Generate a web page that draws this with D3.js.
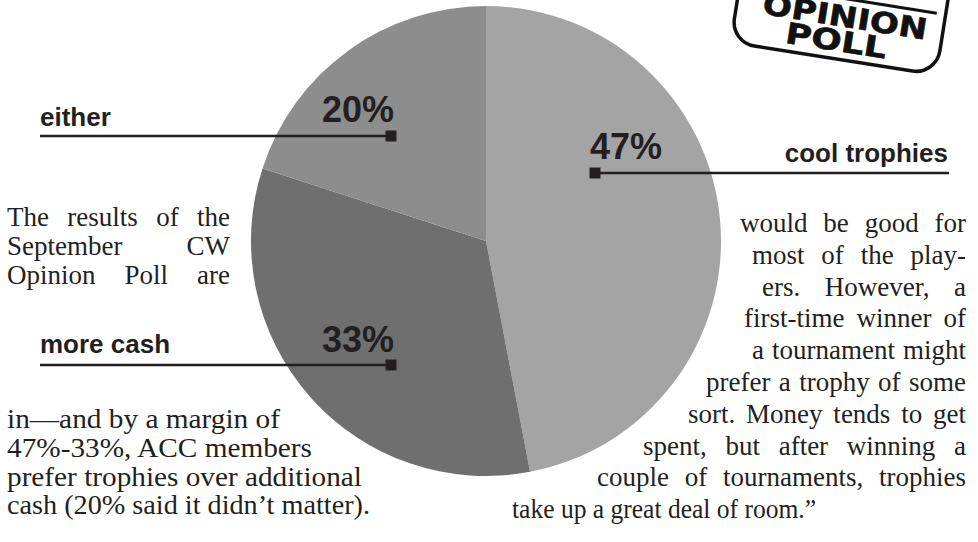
<!DOCTYPE html>
<html>
<head>
<meta charset="utf-8">
<script src="https://cdn.jsdelivr.net/npm/d3@7"></script>
<style>
  html, body { margin: 0; padding: 0; background: #ffffff; }
  svg { display: block; }
</style>
</head>
<body>
<svg id="chart" width="978" height="542"></svg>
<script>
// ---------- DATA ----------
const categories = ["cool trophies", "more cash", "either"];
const values = [47, 33, 20];
const valueLabels = ["47%", "33%", "20%"];

const leftTopLines = ["The results of the", "September CW", "Opinion Poll are"];
const leftBottomLines = [
  "in\u2014and by a margin of",
  "47%-33%, ACC members",
  "prefer trophies over additional",
  "cash (20% said it didn\u2019t matter)."
];
const rightLines = [
  "would be good for",
  "most of the play-",
  "ers. However, a",
  "first-time winner of",
  "a tournament might",
  "prefer a trophy of some",
  "sort. Money tends to get",
  "spent, but after winning a",
  "couple of tournaments, trophies",
  "take up a great deal of room.\u201D"
];
const logoWords = ["OPINION", "POLL"];

// ---------- LAYOUT / STYLE ----------
const W = 978, H = 542;
const ink = "#231f20";
const sliceColors = ["#a4a4a4", "#6f6f6f", "#8d8d8d"];
const pieCenter = [486, 241], pieR = 235;

const labelLayout = [
  { name: [948, 162], nameAnchor: "end", pct: [590, 159], pctAnchor: "start", lineX: [595, 949], lineY: 173, dot: 595 },
  { name: [40, 353], nameAnchor: "start", pct: [394, 352], pctAnchor: "end", lineX: [40, 391], lineY: 365, dot: 391 },
  { name: [40, 126], nameAnchor: "start", pct: [394, 122], pctAnchor: "end", lineX: [40, 391], lineY: 136, dot: 391 }
];

const bodyFont = "'Liberation Serif', 'Times New Roman', serif";
const bodySize = 27;
const leftX0 = 7, leftX1 = 230;
const leftTopBase = 226, leftBottomBase = 428, leftLead = 28.8;
const leftBottomEnds = [280, 312, 362, 370];
const rightX1 = 966;
const rightIndents = [740, 752, 762, 744, 752, 706, 688, 643, 597, 512];
const lastLineEnd = 816;
const rightBase = 232, rightLead = 31.8;

// ---------- DRAW ----------
const svg = d3.select("#chart");
svg.append("rect").attr("width", W).attr("height", H).attr("fill", "#fff");

const pie = d3.pie().sort(null).value(d => d)(values);
const arc = d3.arc().innerRadius(0).outerRadius(pieR);
const color = d3.scaleOrdinal().domain(categories).range(sliceColors);
const gPie = svg.append("g").attr("transform", `translate(${pieCenter[0]},${pieCenter[1]})`);
gPie.selectAll("path").data(pie).join("path")
  .attr("d", arc)
  .attr("fill", (d, i) => color(categories[i]));

const gLab = svg.append("g");
categories.forEach((c, i) => {
  const L = labelLayout[i];
  gLab.append("line")
    .attr("x1", L.lineX[0]).attr("x2", L.lineX[1])
    .attr("y1", L.lineY).attr("y2", L.lineY)
    .attr("stroke", ink).attr("stroke-width", 2.6);
  gLab.append("rect")
    .attr("x", L.dot - 5.5).attr("y", L.lineY - 5.5)
    .attr("width", 11).attr("height", 11).attr("fill", ink);
  gLab.append("text")
    .attr("x", L.name[0]).attr("y", L.name[1])
    .attr("text-anchor", L.nameAnchor)
    .attr("font-family", "'Liberation Sans', Arial, sans-serif")
    .attr("font-weight", "bold").attr("font-size", 26)
    .attr("fill", ink).text(c);
  gLab.append("text")
    .attr("x", L.pct[0]).attr("y", L.pct[1])
    .attr("text-anchor", L.pctAnchor)
    .attr("font-family", "'Liberation Sans', Arial, sans-serif")
    .attr("font-weight", "bold").attr("font-size", 36)
    .attr("fill", ink).text(valueLabels[i]);
});

const gText = svg.append("g")
  .attr("font-family", bodyFont).attr("font-size", bodySize).attr("fill", ink);

function justified(str, x0, x1, y) {
  const t = gText.append("text").attr("x", x0).attr("y", y).text(str);
  const nat = t.node().getComputedTextLength();
  const nSp = (str.match(/ /g) || []).length;
  const avail = x1 - x0;
  if (nat > avail || nSp === 0) {
    t.attr("textLength", avail).attr("lengthAdjust", "spacingAndGlyphs");
  } else {
    t.style("word-spacing", ((avail - nat) / nSp) + "px");
  }
  return t;
}
function fitted(str, x0, x1, y) {
  return gText.append("text").attr("x", x0).attr("y", y)
    .attr("textLength", x1 - x0).attr("lengthAdjust", "spacingAndGlyphs").text(str);
}

leftTopLines.forEach((s, i) => justified(s, leftX0, leftX1, leftTopBase + i * leftLead));
leftBottomLines.forEach((s, i) => fitted(s, leftX0, leftBottomEnds[i], leftBottomBase + i * leftLead));
rightLines.forEach((s, i) => {
  const y = rightBase + i * rightLead;
  if (i === rightLines.length - 1) fitted(s, rightIndents[i], lastLineEnd, y);
  else justified(s, rightIndents[i], rightX1, y);
});

// logo stamp
const gLogo = svg.append("g").attr("transform", "translate(845,30) rotate(9)");
gLogo.append("rect")
  .attr("x", -111).attr("y", -95).attr("width", 208).attr("height", 125)
  .attr("rx", 24).attr("fill", "#fff").attr("stroke", "#111").attr("stroke-width", 3.5);
gLogo.append("line").attr("x1", -86).attr("x2", 88).attr("y1", -31).attr("y2", -31)
  .attr("stroke", "#111").attr("stroke-width", 3);
gLogo.append("text").attr("x", -2).attr("y", -3).attr("text-anchor", "middle")
  .attr("font-family", "'DejaVu Sans', Arial, sans-serif").attr("font-weight", "bold")
  .attr("font-size", 29).attr("textLength", 166).attr("lengthAdjust", "spacingAndGlyphs")
  .attr("fill", "#111").attr("stroke", "#111").attr("stroke-width", 0.6).text(logoWords[0]);
gLogo.append("text").attr("x", -7).attr("y", 22).attr("text-anchor", "middle")
  .attr("font-family", "'DejaVu Sans', Arial, sans-serif").attr("font-weight", "bold")
  .attr("font-size", 29).attr("textLength", 102).attr("lengthAdjust", "spacingAndGlyphs")
  .attr("fill", "#111").attr("stroke", "#111").attr("stroke-width", 0.6).text(logoWords[1]);
</script>
</body>
</html>
